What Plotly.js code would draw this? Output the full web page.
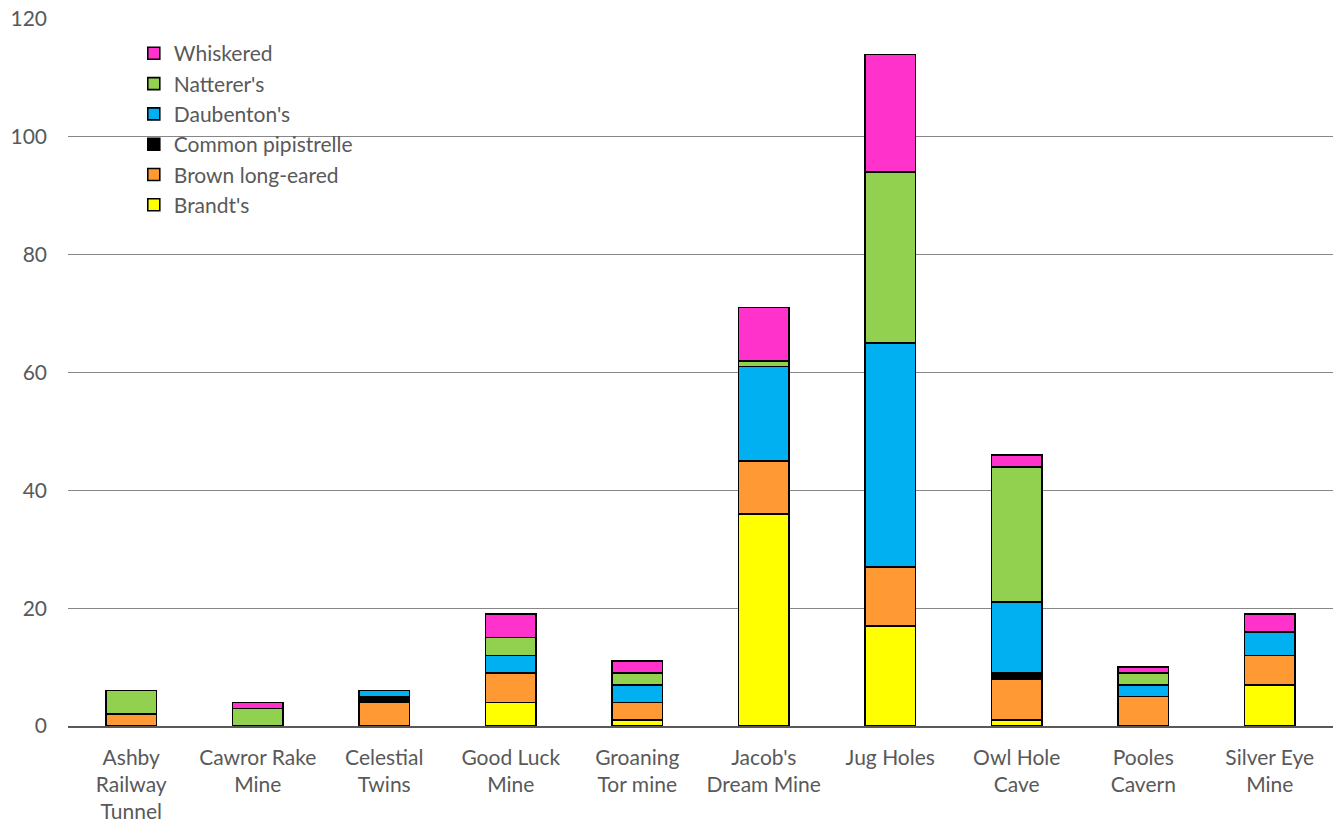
<!DOCTYPE html>
<html><head><meta charset="utf-8">
<script src="https://cdn.plot.ly/plotly-3.0.1.min.js"></script>
<style>body{margin:0;background:#fff}#chart{width:1333px;height:828px}</style>
</head><body><div id="chart"></div>
<script>
const sites = ["Ashby<br>Railway<br>Tunnel","Cawror Rake<br>Mine","Celestial<br>Twins","Good Luck<br>Mine","Groaning<br>Tor mine","Jacob's<br>Dream Mine","Jug Holes","Owl Hole<br>Cave","Pooles<br>Cavern","Silver Eye<br>Mine"];
const brandts      = [0,0,0,4,1,36,17,1,0,7];
const brownLong    = [2,0,4,5,3,9,10,7,5,5];
const commonPip    = [0,0,1,0,0,0,0,1,0,0];
const daubentons   = [0,0,1,3,3,16,38,12,2,4];
const natterers    = [4,3,0,3,2,1,29,23,2,0];
const whiskered    = [0,1,0,4,2,9,20,2,1,3];
const seriesNames  = ["Brandt's","Brown long-eared","Common pipistrelle","Daubenton's","Natterer's","Whiskered"];
const seriesData   = [brandts,brownLong,commonPip,daubentons,natterers,whiskered];
const colors       = ["#FFFF00","#FF9933","#000000","#00B0F0","#92D050","#FF33CC"];
const yTicks       = [0,20,40,60,80,100,120];

const traces = seriesNames.map((n,i)=>({
  type:'bar', name:n, x:sites, y:seriesData[i], legendgroup:'g'+i,
  marker:{color:colors[i], line:{color:'#000', width:1.6}}
}));
const layout = {
  width:1333, height:828, barmode:'stack', bargap:0.6,
  margin:{l:68,r:0,t:19,b:102},
  paper_bgcolor:'#fff', plot_bgcolor:'#fff',
  font:{family:'Lato, "Noto Sans", sans-serif', size:21, color:'#595959'},
  showlegend:true,
  legend:{traceorder:'reversed', x:0.052, y:0.98, xanchor:'left', yanchor:'top',
    bgcolor:'rgba(0,0,0,0)', font:{size:21, color:'#595959'}, itemwidth:30, tracegroupgap:4},
  xaxis:{tickfont:{size:21,color:'#595959'}, showline:true, linecolor:'#595959', linewidth:1.5, ticks:'', showgrid:false, ticklabelstandoff:12},
  yaxis:{range:[0,120], tickvals:yTicks, tickfont:{size:21,color:'#595959'}, showgrid:true,
    gridcolor:'#878787', gridwidth:1.2, zeroline:false, showline:false, ticks:'', ticklabelstandoff:20}
};
Plotly.newPlot('chart', traces, layout, {displayModeBar:false, staticPlot:true});
</script></body></html>
